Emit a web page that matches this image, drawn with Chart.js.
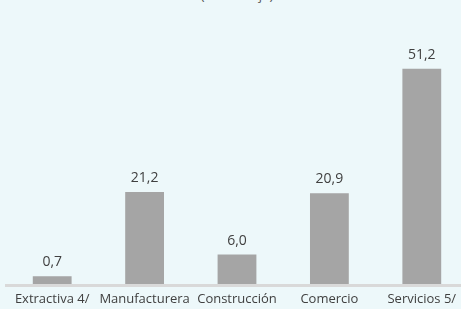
<!DOCTYPE html>
<html>
<head>
<meta charset="utf-8">
<script src="https://cdn.jsdelivr.net/npm/chart.js@4.4.1/dist/chart.umd.min.js"></script>
<style>
  html, body { margin: 0; padding: 0; background: #edf8fa; overflow: hidden; }
  #wrap { position: relative; width: 461px; height: 309px; overflow: hidden; }
  #title {
    position: absolute; left: 3px; top: -11px; width: 468px;
    text-align: center; font: 13px "Open Sans", sans-serif; color: #595959;
    line-height: 13px;
  }
  #box { position: absolute; left: 0; top: 0; width: 468px; height: 313px; }
</style>
</head>
<body>
<div id="wrap">
  <div id="title">(Porcentaje)</div>
  <div id="box"><canvas id="c" width="468" height="313"></canvas></div>
</div>
<script>
const categories = ['Extractiva 4/', 'Manufacturera', 'Construcción', 'Comercio', 'Servicios 5/'];
const shares = [0.7, 21.2, 6.0, 20.9, 51.2];

const fontFamily = '"Open Sans", sans-serif';

// numbers over the bars, Spanish decimal comma
const valueLabels = {
  id: 'valueLabels',
  afterDatasetsDraw(chart) {
    const ctx = chart.ctx;
    const meta = chart.getDatasetMeta(0);
    ctx.save();
    ctx.font = '14px ' + fontFamily;
    ctx.fillStyle = '#404040';
    ctx.textAlign = 'center';
    ctx.textBaseline = 'alphabetic';
    meta.data.forEach((bar, i) => {
      ctx.fillText(shares[i].toFixed(1).replace('.', ','), bar.x, bar.y - 10);
    });
    ctx.restore();
  }
};

new Chart(document.getElementById('c'), {
  type: 'bar',
  data: {
    labels: categories,
    datasets: [{
      data: shares,
      base: -1.5,
      backgroundColor: '#a5a5a5',
      barPercentage: 0.42,
      categoryPercentage: 1
    }]
  },
  options: {
    responsive: false,
    animation: false,
    layout: { padding: { left: 6, right: 0, top: 32.5, bottom: 0 } },
    plugins: { legend: { display: false }, tooltip: { enabled: false } },
    scales: {
      x: {
        grid: { display: false, drawTicks: false },
        border: { display: true, color: '#d9d9d9', width: 3, z: 1 },
        ticks: { color: '#404040', font: { family: fontFamily, size: 13 }, padding: 6, maxRotation: 0, autoSkip: false }
      },
      y: {
        display: false,
        min: -1.5,
        max: 60
      }
    }
  },
  plugins: [valueLabels]
});
</script>
</body>
</html>
